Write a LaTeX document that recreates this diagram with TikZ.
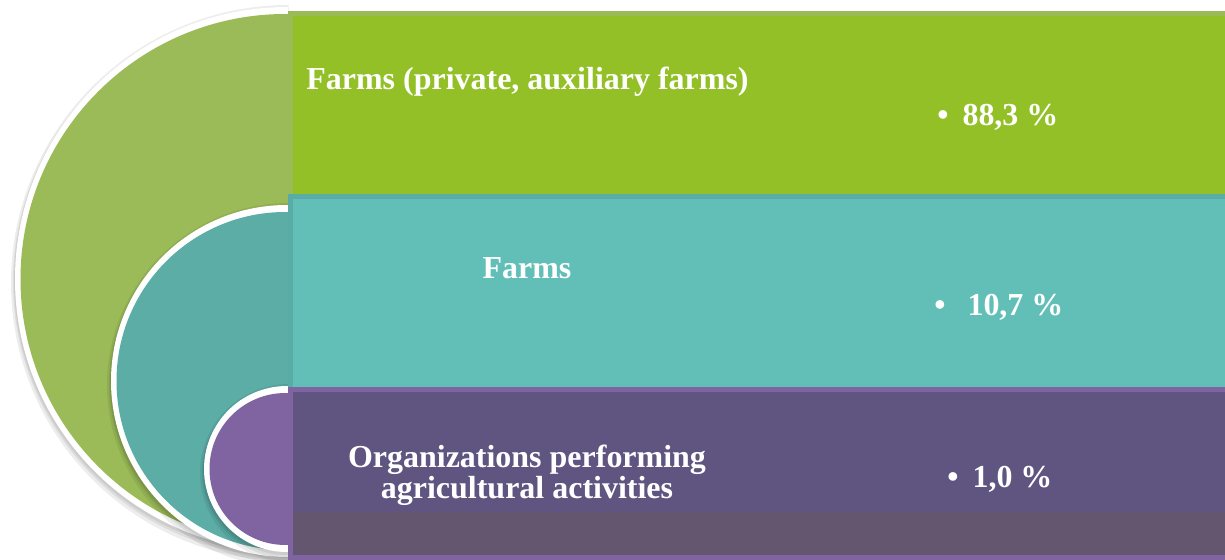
\documentclass[tikz,border=0pt]{standalone}
\usepackage{fontspec}
\setmainfont{Liberation Serif}
\usepackage{tikz}
\usetikzlibrary{positioning}

\definecolor{bandgreen}{HTML}{93C027}
\definecolor{edgegreen}{HTML}{9BBB59}
\definecolor{bandteal}{HTML}{62BFB7}
\definecolor{edgeteal}{HTML}{5AADA6}
\definecolor{discteal}{HTML}{5BADA6}
\definecolor{bandviolet}{HTML}{5F5580}
\definecolor{edgeviolet}{HTML}{8064A2}
\definecolor{footviolet}{HTML}{655670}

\begin{document}
\begin{tikzpicture}[x=0.02cm,y=0.02cm,
band/.style={line width=0.1cm},
lbl/.style={text=white,inner sep=0pt,font=\fontsize{18.2}{17.6}\selectfont\bfseries},
shade/.style={fill=black,opacity=0.07}]

\useasboundingbox (0,0) rectangle (1225,559);
\clip (0,0) rectangle (1225,559);

% half discs, largest first, each with a white rim and a soft shadow
\foreach \yc/\r/\col in {280/265/edgegreen, 178/169/discteal, 90/76/edgeviolet}{
  \begin{scope}
    \clip (0,0) rectangle (288.5,559);
    \fill[shade] (289,\yc-4) circle[radius=\r+13];
    \fill[shade] (288,\yc-3) circle[radius=\r+10];
    \fill[shade] (287,\yc-2) circle[radius=\r+8];
    \fill[white] (287,\yc) circle[radius=\r+7];
    \fill[\col] (285.5,\yc) circle[radius=\r];
  \end{scope}
}

% the three bands
\draw[band,draw=edgegreen,fill=bandgreen] (290.5,363) rectangle (1240,545.5);
\draw[band,draw=edgeteal,fill=bandteal] (290.5,170) rectangle (1240,362.5);
\draw[band,draw=edgeviolet,fill=bandviolet] (290.5,2) rectangle (1240,169.5);
\fill[footviolet] (293,4.5) rectangle (1240,47);

% labels
\node[lbl,anchor=base west] (f1) at (306,470) {Farms (private, auxiliary farms)};
\node[lbl,anchor=base west] (p1) at (937,434) {\textbullet\hspace{0.28cm}88,3 \%};
\node[lbl,anchor=base] (f2) at (527,281) {Farms};
\node[lbl,anchor=base west] (p2) at (934,244) {\textbullet\hspace{0.44cm}10,7 \%};
\node[lbl,align=center] (f3) at (527,84) {Organizations performing\\agricultural activities};
\node[lbl,anchor=base west] (p3) at (947,72) {\textbullet\hspace{0.28cm}1,0 \%};
\end{tikzpicture}
\end{document}
